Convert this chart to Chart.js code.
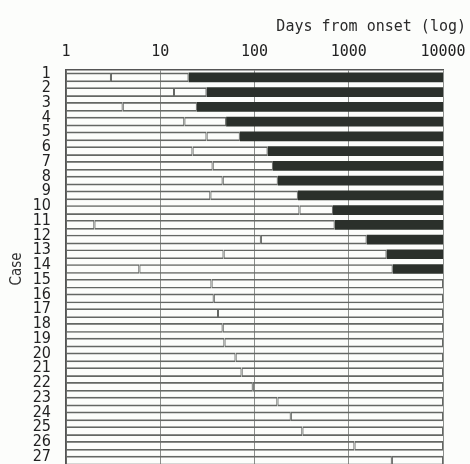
<!DOCTYPE html>
<html>
<head>
<meta charset="utf-8">
<script src="https://cdn.jsdelivr.net/npm/chart.js@4/dist/chart.umd.min.js"></script>
<style>
  html, body { margin: 0; padding: 0; background: #fcfdfb; overflow: hidden; }
  #wrap { position: relative; width: 470px; height: 468px; }
</style>
</head>
<body>
<div id="wrap"><canvas id="caseChart"></canvas></div>
<script>
// one row per case, days on a log axis
const cases = ["1","2","3","4","5","6","7","8","9","10","11","12","13","14",
  "15","16","17","18","19","20","21","22","23","24","25","26","27"];
// day of the small divider mark inside each bar
const markerDay = [3, 14, 4, 18, 31, 22, 36, 46, 34, 300, 2, 117, 47, 6,
  35, 37, 41, 46, 48, 63, 73, 96, 175, 243, 322, 1150, 2870];
// day where the dark part starts (null = no dark part)
const darkStart = [20, 31, 24.5, 50, 70, 138, 157, 177, 289, 680, 710, 1550, 2520, 2930,
  null, null, null, null, null, null, null, null, null, null, null, null, null];
const tickDays = [1, 10, 100, 1000, 10000];
const lastDay = 10000;

const firstPart = markerDay.map(d => [1, d]);
const secondPart = markerDay.map((d, i) => [d, darkStart[i] || lastDay]);
const darkPart = darkStart.map(d => (d ? [d, lastDay] : null));

const outline = {
  grouped: false,
  barPercentage: 1,
  categoryPercentage: 0.66,
  backgroundColor: "rgba(255,255,255,0)",
  borderColor: "#646764",
  borderWidth: { top: 1.7, bottom: 1.7, left: 1, right: 1 },
  borderSkipped: false,
};

new Chart(document.getElementById("caseChart"), {
  type: "bar",
  data: {
    labels: cases,
    datasets: [
      { ...outline, data: firstPart },
      { ...outline, data: secondPart },
      {
        grouped: false,
        barPercentage: 1,
        categoryPercentage: 0.66,
        data: darkPart,
        backgroundColor: "#2b302b",
        borderWidth: 0,
      },
    ],
  },
  options: {
    indexAxis: "y",
    responsive: true,
    maintainAspectRatio: false,
    animation: false,
    layout: { padding: { left: 8, right: 4, top: 0, bottom: 0 } },
    plugins: {
      legend: { display: false },
      tooltip: { enabled: false },
      title: {
        display: true,
        text: "Days from onset (log)",
        align: "end",
        color: "#2a2a2a",
        font: { family: "'DejaVu Sans Mono', monospace", size: 15, weight: "normal" },
        padding: { top: 18, bottom: 3 },
      },
    },
    scales: {
      x: {
        type: "logarithmic",
        position: "top",
        min: 1,
        max: lastDay,
        afterBuildTicks: (s) => { s.ticks = tickDays.map(v => ({ value: v })); },
        afterFit: (s) => { s.height = 31; s.paddingLeft = 0; s.paddingRight = 27; },
        ticks: {
          callback: (v) => String(v),
          color: "#222",
          font: { family: "'DejaVu Sans Mono', monospace", size: 15 },
          padding: 9,
          maxRotation: 0,
          autoSkip: false,
        },
        grid: { color: "#8c8f8c", lineWidth: 1, drawTicks: false },
        border: { color: "#555", width: 1.5 },
      },
      y: {
        afterFit: (s) => { s.width = 58; s.paddingTop = 0; s.paddingBottom = 0; },
        grid: { display: false, drawTicks: false },
        border: { color: "#555", width: 1.5 },
        ticks: {
          autoSkip: false,
          color: "#222",
          font: { family: "'Liberation Sans Narrow', 'DejaVu Sans Condensed', sans-serif", size: 16 },
          padding: 15,
          labelOffset: -4,
        },
        title: {
          display: true,
          text: "Case",
          color: "#333",
          font: { family: "'Liberation Sans Narrow', 'DejaVu Sans Condensed', sans-serif", size: 15 },
          padding: { top: 0, bottom: 6 },
        },
      },
    },
  },
});
</script>
</body>
</html>
